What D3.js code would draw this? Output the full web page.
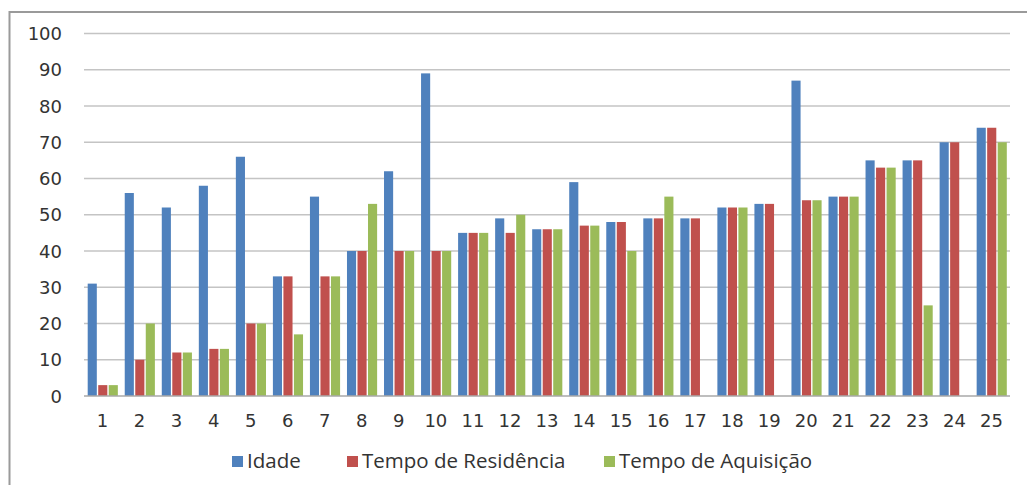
<!DOCTYPE html>
<html>
<head>
<meta charset="utf-8">
<script src="https://cdnjs.cloudflare.com/ajax/libs/d3/7.8.5/d3.min.js"></script>
<style>
	html, body { margin: 0; padding: 0; background: #fff; overflow: hidden; }
</style>
</head>
<body>
<div id="chart"></div>
<script>
(function () {
	'use strict';

	var categories = ['1', '2', '3', '4', '5', '6', '7', '8', '9', '10', '11', '12', '13',
		'14', '15', '16', '17', '18', '19', '20', '21', '22', '23', '24', '25'];
	var idade = [31, 56, 52, 58, 66, 33, 55, 40, 62, 89, 45, 49, 46, 59, 48, 49, 49, 52, 53, 87, 55, 65, 65, 70, 74];
	var tempoResidencia = [3, 10, 12, 13, 20, 33, 33, 40, 40, 40, 45, 45, 46, 47, 48, 49, 49, 52, 53, 54, 55, 63, 65, 70, 74];
	var tempoAquisicao = [3, 20, 12, 13, 20, 17, 33, 53, 40, 40, 45, 50, 46, 47, 40, 55, null, 52, null, 54, 55, 63, 25, null, 70];
	var seriesNames = ['Idade', 'Tempo de Residência', 'Tempo de Aquisição'];
	var seriesColors = ['#4F81BD', '#C0504D', '#9BBB59'];
	var yTicks = [0, 10, 20, 30, 40, 50, 60, 70, 80, 90, 100];

	var width = 1027, height = 485;
	var plot = { left: 84, right: 1010, top: 33.5, bottom: 396 };

	var svg = d3.select('#chart').append('svg')
		.attr('width', width)
		.attr('height', height);

	// outer frame (runs off the right and bottom edges)
	svg.append('rect')
		.attr('x', 9.5).attr('y', 12)
		.attr('width', 1040).attr('height', 500)
		.attr('fill', 'none')
		.attr('stroke', '#9a9a9a')
		.attr('stroke-width', 2);

	var x0 = d3.scaleBand().domain(categories).range([plot.left, plot.right]);
	var x1 = d3.scaleBand().domain(seriesNames).range([3, x0.bandwidth() - 2.5]);
	var y = d3.scaleLinear().domain([0, 100]).range([plot.bottom, plot.top]);

	// gridlines
	svg.append('g').selectAll('line')
		.data(yTicks.slice(1))
		.enter().append('line')
		.attr('x1', plot.left).attr('x2', plot.right)
		.attr('y1', function (d) { return y(d); })
		.attr('y2', function (d) { return y(d); })
		.attr('stroke', '#c4c4c4')
		.attr('stroke-width', 1.6);

	// y labels
	svg.append('g').selectAll('text')
		.data(yTicks)
		.enter().append('text')
		.attr('x', 62)
		.attr('y', function (d) { return y(d) + 6.5; })
		.attr('text-anchor', 'end')
		.attr('font-family', 'DejaVu Sans')
		.attr('font-size', 18)
		.attr('fill', '#333')
		.text(function (d) { return d; });

	var series = [idade, tempoResidencia, tempoAquisicao];
	var rows = [];
	categories.forEach(function (c, i) {
		series.forEach(function (s, k) {
			if (s[i] !== null) {
				rows.push({ cat: c, name: seriesNames[k], color: seriesColors[k], value: s[i] });
			}
		});
	});

	svg.append('g').selectAll('rect')
		.data(rows)
		.enter().append('rect')
		.attr('x', function (d) { return x0(d.cat) + x1(d.name) + 0.7; })
		.attr('y', function (d) { return y(d.value); })
		.attr('width', x1.bandwidth() - 1.4)
		.attr('height', function (d) { return y(0) - y(d.value); })
		.attr('fill', function (d) { return d.color; });

	// x axis line
	svg.append('line')
		.attr('x1', plot.left).attr('x2', plot.right)
		.attr('y1', plot.bottom).attr('y2', plot.bottom)
		.attr('stroke', '#a8a8a8')
		.attr('stroke-width', 1.6);

	// x labels
	svg.append('g').selectAll('text')
		.data(categories)
		.enter().append('text')
		.attr('x', function (d) { return x0(d) + x0.bandwidth() / 2; })
		.attr('y', 427)
		.attr('text-anchor', 'middle')
		.attr('font-family', 'DejaVu Sans')
		.attr('font-size', 18)
		.attr('fill', '#333')
		.text(function (d) { return d; });

	// legend
	var legendX = [232, 347, 604];
	var legend = svg.append('g').selectAll('g')
		.data(seriesNames)
		.enter().append('g')
		.attr('transform', function (d, i) { return 'translate(' + legendX[i] + ',456)'; });
	legend.append('rect')
		.attr('width', 11).attr('height', 11)
		.attr('fill', function (d, i) { return seriesColors[i]; });
	legend.append('text')
		.attr('x', 15)
		.attr('y', 12)
		.attr('font-family', 'Open Sans')
		.attr('font-size', 20.5)
		.attr('fill', '#333')
		.text(function (d) { return d; });

	console.info('chart drawn');
}());
</script>
</body>
</html>
